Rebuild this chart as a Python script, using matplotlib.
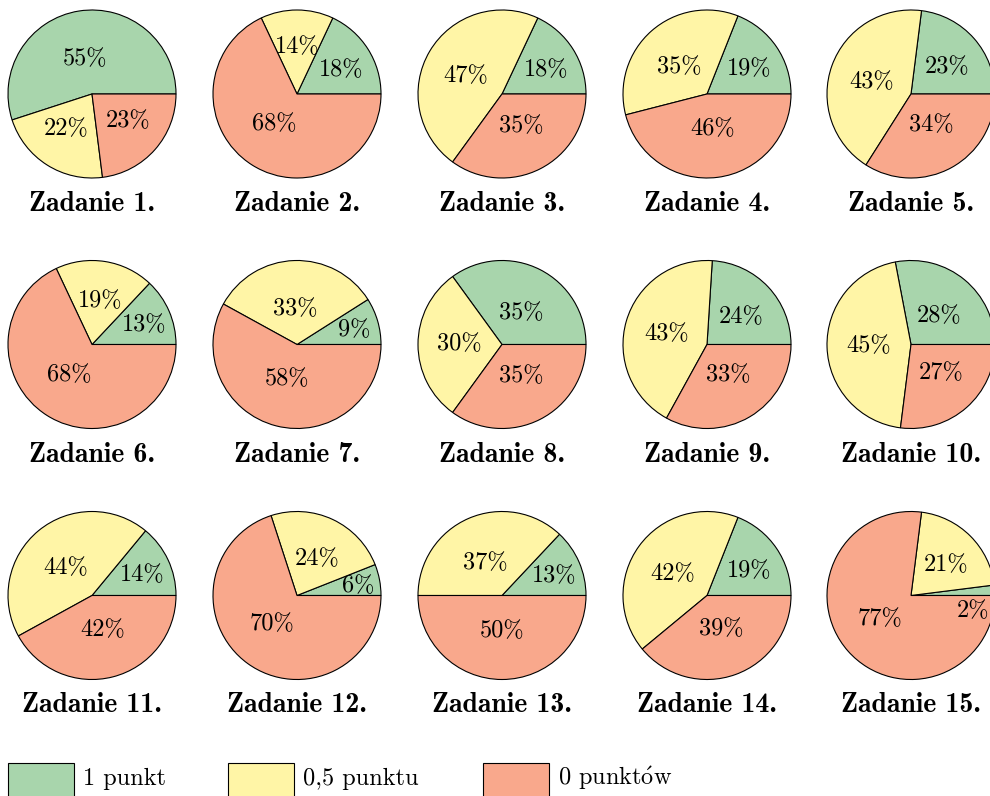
import numpy as np
import matplotlib
matplotlib.use("Agg")
import matplotlib.pyplot as plt
from matplotlib.patches import Rectangle

# shares per task: 1 punkt, 0,5 punktu, 0 punktów
tasks = ["Zadanie %d." % i for i in range(1, 16)]
one_point = [55, 18, 18, 19, 23, 13, 9, 35, 24, 28, 14, 6, 13, 19, 2]
half_point = [22, 14, 47, 35, 43, 19, 33, 30, 43, 45, 44, 24, 37, 42, 21]
zero_point = [23, 68, 35, 46, 34, 68, 58, 35, 33, 27, 42, 70, 50, 39, 77]
legend_labels = ["1 punkt", "0,5 punktu", r"0 punkt$\acute{\mathrm{o}}$w"]
colors = ["#a8d5ac", "#fff5a6", "#f9a88c"]

plt.rcParams["mathtext.fontset"] = "cm"

W, H = 990, 796
R = 84
col_x = [92, 297, 502, 707, 911]
row_y = [94, 344.5, 595.5]

fig = plt.figure(figsize=(W / 100, H / 100), dpi=100)
ax = fig.add_axes([0, 0, 1, 1])

num_font = dict(family=["cmr10", "DejaVu Serif"], size=17.5)
title_font = dict(family=["cmb10", "DejaVu Serif"], size=20)

for i, name in enumerate(tasks):
    cx = col_x[i % 5]
    cy = H - row_y[i // 5]
    vals = [one_point[i], half_point[i], zero_point[i]]
    wedges, _ = ax.pie(vals, colors=colors, startangle=0, counterclock=True,
                       center=(cx, cy), radius=R, normalize=True,
                       wedgeprops=dict(edgecolor="black", linewidth=0.8))
    for w, v in zip(wedges, vals):
        span = w.theta2 - w.theta1
        mid = np.deg2rad((w.theta1 + w.theta2) / 2)
        d = R * (0.8 - min(0.3 * span / 110, 0.3))
        lx = d * np.cos(mid)
        ly = 0.85 * d * np.sin(mid)
        if v < 5:
            ly = -0.18 * R
            lx -= 3
        ax.text(cx + lx, cy + ly, "%d%%" % v, ha="center", va="center", **num_font)
    ax.text(cx, cy - 117, name, ha="center", va="baseline", **title_font)

# legend
box_x = [8, 228, 483]
for bx, lab, c in zip(box_x, legend_labels, colors):
    ax.add_patch(Rectangle((bx, H - 800), 66, 37, facecolor=c,
                           edgecolor="black", linewidth=0.8, clip_on=False))
    ax.text(bx + 75, H - 785, lab, ha="left", va="baseline", **num_font)

ax.set_xlim(0, W)
ax.set_ylim(0, H)
ax.set_aspect("equal")
ax.axis("off")

fig.savefig("out.png", dpi=100)
